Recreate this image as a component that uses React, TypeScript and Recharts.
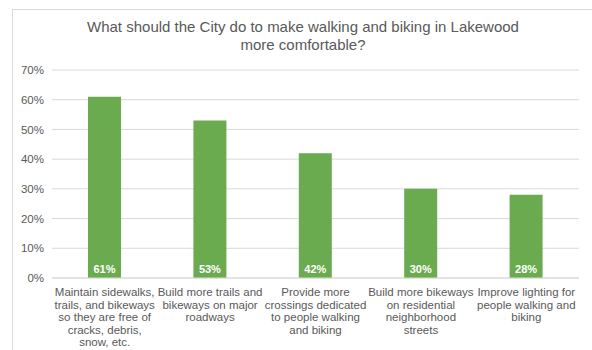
import { BarChart, Bar, XAxis, YAxis, CartesianGrid, LabelList } from "recharts";

const categories = [
  "Maintain sidewalks, trails, and bikeways so they are free of cracks, debris, snow, etc.",
  "Build more trails and bikeways on major roadways",
  "Provide more crossings dedicated to people walking and biking",
  "Build more bikeways on residential neighborhood streets",
  "Improve lighting for people walking and biking",
];

// wrapped as in the original
const categoryLines = [
  ["Maintain sidewalks,", "trails, and bikeways", "so they are free of", "cracks, debris,", "snow, etc."],
  ["Build more trails and", "bikeways on major", "roadways"],
  ["Provide more", "crossings dedicated", "to people walking", "and biking"],
  ["Build more bikeways", "on residential", "neighborhood", "streets"],
  ["Improve lighting for", "people walking and", "biking"],
];

const shares = [61, 53, 42, 30, 28];

const yTicks = [0, 10, 20, 30, 40, 50, 60, 70];

const FONT = "'Liberation Sans', Arial, sans-serif";
const TEXT = "#595959";

const data = categories.map((name, i) => ({ name, idx: i, value: shares[i] }));

const CategoryTick = ({ x, y, payload }: any) => {
  const lines = categoryLines[payload.index] || [payload.value];
  return (
    <text x={x} y={y} textAnchor="middle" fill={TEXT} fontSize={11.5} fontFamily={FONT}>
      {lines.map((l: string, i: number) => (
        <tspan key={i} x={x} dy={i === 0 ? 10 : 12.6}>
          {l}
        </tspan>
      ))}
    </text>
  );
};

export default function App() {
  return (
    <div style={{ position: "absolute", left: 0, top: 0, width: 592, height: 350, background: "#fff" }}>
      <div
        style={{
          position: "absolute",
          left: 12,
          top: 9,
          width: 590,
          height: 350,
          border: "1px solid #d9d9d9",
          boxSizing: "border-box",
        }}
      />
      <div
        style={{
          position: "absolute",
          left: 12,
          width: 582,
          top: 18,
          textAlign: "center",
          fontFamily: FONT,
          fontSize: 15,
          lineHeight: "18px",
          color: TEXT,
        }}
      >
        What should the City do to make walking and biking in Lakewood
        <br />
        more comfortable?
      </div>
      <div style={{ position: "absolute", left: 0, top: 0 }}>
        <BarChart
          width={592}
          height={350}
          data={data}
          margin={{ top: 70, right: 13, bottom: 42, left: 0 }}
        >
          <CartesianGrid vertical={false} stroke="#d9d9d9" />
          <XAxis
            dataKey="name"
            height={30}
            tick={<CategoryTick />}
            tickLine={false}
            axisLine={{ stroke: "#d9d9d9" }}
            interval={0}
          />
          <YAxis
            width={52}
            domain={[0, 70]}
            ticks={yTicks}
            tickFormatter={(v) => `${v}%`}
            tickLine={false}
            axisLine={false}
            tick={{ fill: TEXT, fontSize: 11.5, fontFamily: FONT }}
          />
          <Bar dataKey="value" fill="#6AAB4F" barSize={33} isAnimationActive={false}>
            <LabelList
              dataKey="value"
              position="insideBottom"
              formatter={(v: any) => `${v}%`}
              fill="#ffffff"
              fontSize={11}
              fontWeight="bold"
              fontFamily={FONT}
            />
          </Bar>
        </BarChart>
      </div>
    </div>
  );
}
